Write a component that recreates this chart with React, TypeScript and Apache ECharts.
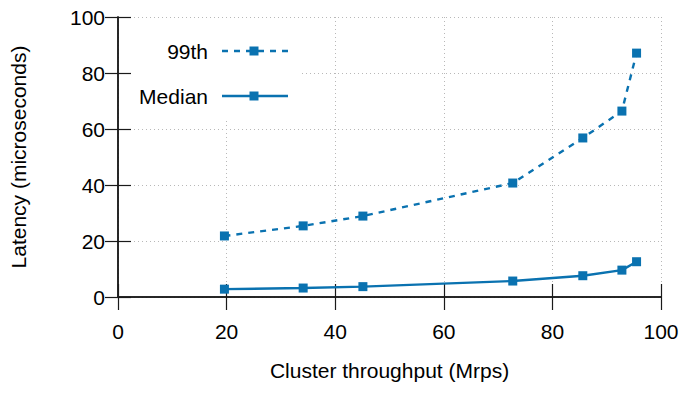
import React, { useEffect, useRef } from "react";
import * as echarts from "echarts";

const throughput = [19.6, 34.1, 45.1, 72.7, 85.6, 92.8, 95.5];
const p99 = [21.8, 25.4, 28.9, 40.7, 56.8, 66.4, 87.1];
const median = [2.8, 3.2, 3.7, 5.7, 7.6, 9.6, 12.6];
const seriesNames = ["99th", "Median"];
const xTitle = "Cluster throughput (Mrps)";
const yTitle = "Latency (microseconds)";

const BLUE = "#0a72b0";
const FONT = "Liberation Sans, Arial, Helvetica, sans-serif";
const DASH = [6, 6];

export default function App() {
  const ref = useRef<HTMLDivElement>(null);
  useEffect(() => {
    document.body.style.margin = "0";
    const chart = echarts.init(ref.current!, null, { renderer: "svg" });
    const axisLine = { show: true, lineStyle: { color: "#1a1a1a", width: 1.5 } };
    const tick = { show: true, inside: true, length: 13, lineStyle: { color: "#1a1a1a", width: 1.2 } };
    const labelStyle = { color: "#000", fontSize: 21, fontFamily: FONT };
    const grid = { type: [1, 3], color: "#b8b8b8", width: 1 };
    const base = { type: "value", min: 0, max: 100, interval: 20 };
    const pairs = (ys: number[]) => throughput.map((x, i) => [x, ys[i]]);
    const lx = 208, l0 = 222, l1 = 288, rows = [51, 96];
    chart.setOption({
      animation: false,
      grid: { left: 117, right: 24, top: 17, bottom: 96 },
      xAxis: [
        {
          ...base, position: "bottom", z: 3,
          axisLine, axisTick: tick, splitLine: { show: false },
          axisLabel: { ...labelStyle, margin: 24 },
          name: xTitle, nameLocation: "middle", nameGap: 63,
          nameTextStyle: { ...labelStyle },
        },
        { ...base, position: "top", z: 3, axisLine, axisTick: tick, axisLabel: { show: false }, splitLine: { show: false } },
        { ...base, position: "bottom", z: 0, axisLine: { show: false }, axisTick: { show: false }, axisLabel: { show: false }, splitLine: { show: true, lineStyle: grid } },
      ],
      yAxis: [
        {
          ...base, position: "left", z: 3,
          axisLine, axisTick: tick, splitLine: { show: false },
          axisLabel: { ...labelStyle, margin: 13 },
          name: yTitle, nameLocation: "middle", nameGap: 89,
          nameTextStyle: { ...labelStyle },
        },
        { ...base, position: "right", z: 3, axisLine, axisTick: tick, axisLabel: { show: false }, splitLine: { show: false } },
        { ...base, position: "left", z: 0, axisLine: { show: false }, axisTick: { show: false }, axisLabel: { show: false }, splitLine: { show: true, lineStyle: grid } },
      ],
      series: [
        {
          name: seriesNames[0], type: "line", xAxisIndex: 0, yAxisIndex: 0, z: 4,
          data: pairs(p99), symbol: "rect", symbolSize: 9,
          itemStyle: { color: BLUE }, lineStyle: { color: BLUE, width: 2.4, type: DASH },
        },
        {
          name: seriesNames[1], type: "line", xAxisIndex: 0, yAxisIndex: 0, z: 4,
          data: pairs(median), symbol: "rect", symbolSize: 9,
          itemStyle: { color: BLUE }, lineStyle: { color: BLUE, width: 2.4 },
        },
      ],
      graphic: [
        { type: "rect", z: 1, shape: { x: 119, y: 18, width: 181, height: 100 }, style: { fill: "#fff" } },
        ...seriesNames.flatMap((n, i) => [
          { type: "text", z: 10, x: lx, y: rows[i], style: { text: n, fill: "#000", font: `21px ${FONT}`, textAlign: "right", textVerticalAlign: "middle" } },
          { type: "line", z: 10, shape: { x1: l0, y1: rows[i], x2: l1, y2: rows[i] }, style: { stroke: BLUE, lineWidth: 2.4, lineDash: i === 0 ? DASH : null } },
          { type: "rect", z: 11, shape: { x: 254 - 4.5, y: rows[i] - 4.5, width: 9, height: 9 }, style: { fill: BLUE } },
        ]),
      ],
    });
    return () => chart.dispose();
  }, []);
  return <div ref={ref} style={{ width: 685, height: 393 }} />;
}
